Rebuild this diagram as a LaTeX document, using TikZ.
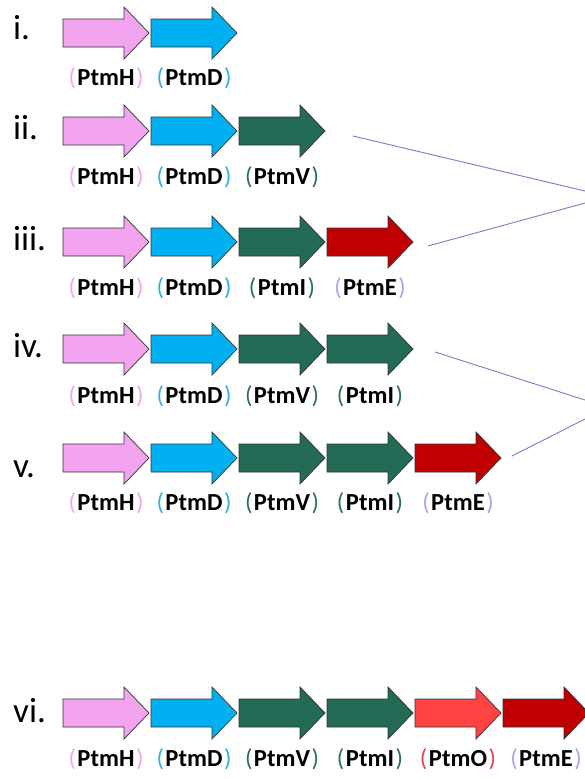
\documentclass[tikz,border=0pt]{standalone}
\usepackage{fontspec}
\setmainfont{Carlito}
\usetikzlibrary{calc}

% gene fill colours
\definecolor{hfill}{HTML}{F2A4EE}
\definecolor{dfill}{HTML}{00B0F0}
\definecolor{gfill}{HTML}{236B57}
\definecolor{efill}{HTML}{C00000}
\definecolor{ofill}{HTML}{FF4343}
% bracket colours of the gene names
\definecolor{hpar}{HTML}{F0A8EC}
\definecolor{dpar}{HTML}{38AEDC}
\definecolor{gpar}{HTML}{2E6E5E}
\definecolor{epar}{HTML}{A8A8E6}
\definecolor{opar}{HTML}{E04848}
\definecolor{linkline}{HTML}{7C7CC6}

\tikzset{
  genearrow/.style={draw=black!80, line width=0.7pt, line join=miter},
  genelabel/.style={anchor=base, inner sep=0pt, font=\fontsize{24.5}{26}\selectfont},
  rowmark/.style={anchor=base west, inner sep=0pt, font=\fontsize{35}{38}\selectfont},
  link/.style={draw=linkline, line width=0.9pt}
}

% #1 left end, #2 centre line, #3 fill colour
\newcommand\gene[3]{%
  \draw[genearrow, fill=#3] (#1,#2-14) -- (#1+61,#2-14) -- (#1+61,#2-26)
    -- (#1+86,#2) -- (#1+61,#2+26) -- (#1+61,#2+14) -- (#1,#2+14) -- cycle;}
% gene name in coloured brackets
\newcommand\gname[2]{{\color{#1}(}\kern1.5pt\textbf{#2}\kern1.5pt{\color{#1})}}

\begin{document}
\begin{tikzpicture}[x=1pt, y=-1pt]
\useasboundingbox (0,0) rectangle (585,779);
\fill[white] (0,0) rectangle (585,779);

% ---- row i
\node[rowmark] (m1) at (13,39) {i.};
\gene{63}{33}{hfill}\gene{151}{33}{dfill}
\node[genelabel] (l1h) at (106,85) {\gname{hpar}{PtmH}};
\node[genelabel] (l1d) at (194,85) {\gname{dpar}{PtmD}};

% ---- row ii
\node[rowmark] (m2) at (13,139) {ii.};
\gene{63}{131}{hfill}\gene{151}{131}{dfill}\gene{239}{131}{gfill}
\node[genelabel] (l2h) at (106,184) {\gname{hpar}{PtmH}};
\node[genelabel] (l2d) at (194,184) {\gname{dpar}{PtmD}};
\node[genelabel] (l2v) at (282,184) {\gname{gpar}{PtmV}};

% ---- row iii
\node[rowmark] (m3) at (13,250) {iii.};
\gene{63}{242}{hfill}\gene{151}{242}{dfill}\gene{239}{242}{gfill}\gene{327}{242}{efill}
\node[genelabel] (l3h) at (106,295) {\gname{hpar}{PtmH}};
\node[genelabel] (l3d) at (194,295) {\gname{dpar}{PtmD}};
\node[genelabel] (l3i) at (282,295) {\gname{gpar}{PtmI}};
\node[genelabel] (l3e) at (370,295) {\gname{epar}{PtmE}};

% ---- row iv
\node[rowmark] (m4) at (13,357) {iv.};
\gene{63}{349}{hfill}\gene{151}{349}{dfill}\gene{239}{349}{gfill}\gene{327}{349}{gfill}
\node[genelabel] (l4h) at (106,403) {\gname{hpar}{PtmH}};
\node[genelabel] (l4d) at (194,403) {\gname{dpar}{PtmD}};
\node[genelabel] (l4v) at (282,403) {\gname{gpar}{PtmV}};
\node[genelabel] (l4i) at (370,403) {\gname{gpar}{PtmI}};

% ---- row v
\node[rowmark] (m5) at (13,477) {v.};
\gene{63}{458}{hfill}\gene{151}{458}{dfill}\gene{239}{458}{gfill}\gene{327}{458}{gfill}\gene{415}{458}{efill}
\node[genelabel] (l5h) at (106,510) {\gname{hpar}{PtmH}};
\node[genelabel] (l5d) at (194,510) {\gname{dpar}{PtmD}};
\node[genelabel] (l5v) at (282,510) {\gname{gpar}{PtmV}};
\node[genelabel] (l5i) at (370,510) {\gname{gpar}{PtmI}};
\node[genelabel] (l5e) at (458,510) {\gname{epar}{PtmE}};

% ---- row vi
\node[rowmark] (m6) at (13,722) {vi.};
\gene{63}{713}{hfill}\gene{151}{713}{dfill}\gene{239}{713}{gfill}\gene{327}{713}{gfill}\gene{415}{713}{ofill}\gene{503}{713}{efill}
\node[genelabel] (l6h) at (106,766) {\gname{hpar}{PtmH}};
\node[genelabel] (l6d) at (194,766) {\gname{dpar}{PtmD}};
\node[genelabel] (l6v) at (282,766) {\gname{gpar}{PtmV}};
\node[genelabel] (l6i) at (370,766) {\gname{gpar}{PtmI}};
\node[genelabel] (l6o) at (458,766) {\gname{opar}{PtmO}};
\node[genelabel] (l6e) at (546,766) {\gname{epar}{PtmE}};

% ---- converging links at the right
\coordinate (s2) at (353,136); \coordinate (t2) at (585,191);
\coordinate (s3) at (428,246); \coordinate (t3) at (585,203);
\coordinate (s4) at (435,352); \coordinate (t4) at (585,400);
\coordinate (s5) at (512,456); \coordinate (t5) at (585,419);
\draw[link] (s2) -- (t2);
\draw[link] (s3) -- (t3);
\draw[link] (s4) -- (t4);
\draw[link] (s5) -- (t5);
\end{tikzpicture}
\end{document}
